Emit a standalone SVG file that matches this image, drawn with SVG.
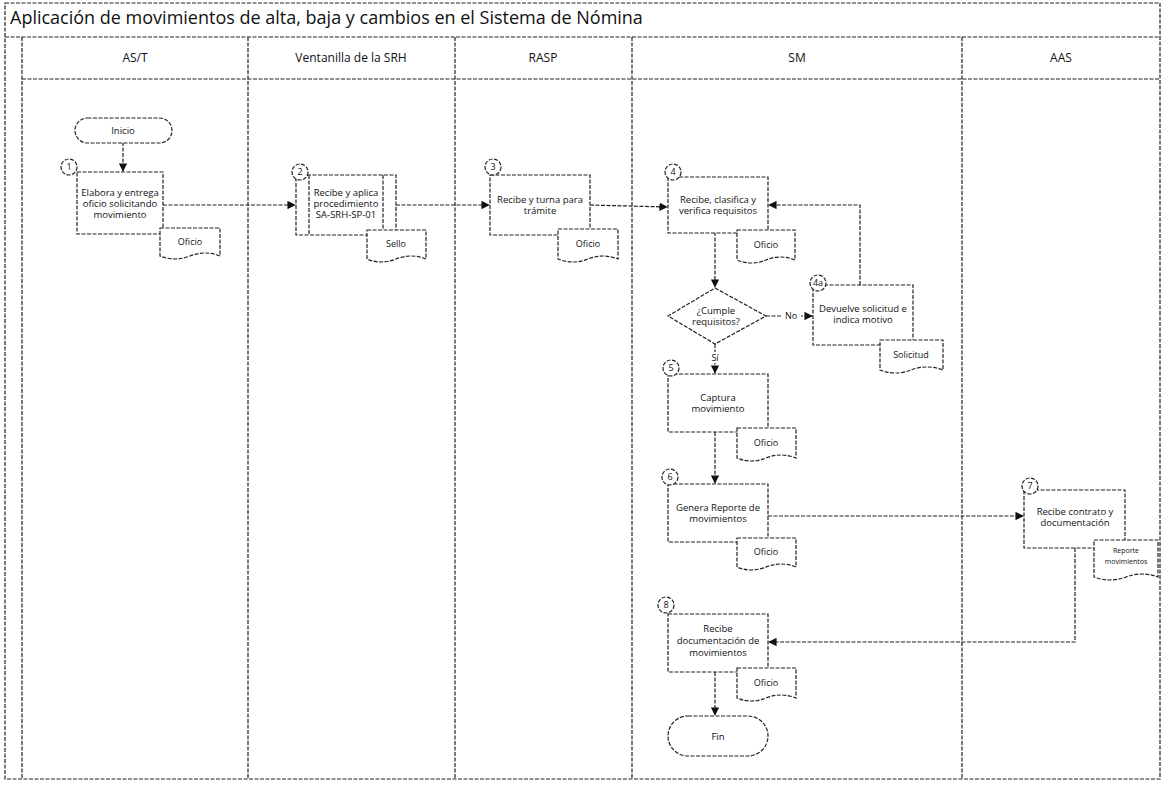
<svg xmlns="http://www.w3.org/2000/svg" width="1163" height="785" viewBox="0 0 1163 785">
<style>
.ln{fill:none;stroke:#222;stroke-width:1.2;stroke-dasharray:4,1.5}
.sh{fill:#fff;stroke:#222;stroke-width:1.2;stroke-dasharray:4,1.5}
.t{font-family:"Open Sans","Liberation Sans",sans-serif;font-size:9.5px;fill:#111;text-anchor:middle}
.h{font-family:"Open Sans","Liberation Sans",sans-serif;font-size:12px;fill:#111;text-anchor:middle}
.c{font-family:"Open Sans","Liberation Sans",sans-serif;font-size:9px;fill:#111;text-anchor:middle}
.s{font-family:"Open Sans","Liberation Sans",sans-serif;font-size:7px;fill:#111;text-anchor:middle}
</style>
<defs>
<marker id="ar" viewBox="0 0 10 10" refX="9" refY="5" markerWidth="7" markerHeight="7" orient="auto-start-reverse">
<path d="M0,0 L10,5 L0,10 z" fill="#111"/>
</marker>
</defs>
<rect width="1163" height="785" fill="#fff"/>
<g id="frame">
<rect x="5" y="3" width="1155" height="776" class="ln"/>
<text x="10" y="24" font-family="'Open Sans','Liberation Sans',sans-serif" font-size="18" fill="#111">Aplicación de movimientos de alta, baja y cambios en el Sistema de Nómina</text>
<line x1="5" y1="37" x2="1160" y2="37" class="ln"/>
<line x1="22" y1="37" x2="22" y2="779" class="ln"/>
<line x1="22" y1="79" x2="1160" y2="79" class="ln"/>
<line x1="248" y1="37" x2="248" y2="779" class="ln"/>
<line x1="455" y1="37" x2="455" y2="779" class="ln"/>
<line x1="632" y1="37" x2="632" y2="779" class="ln"/>
<line x1="962" y1="37" x2="962" y2="779" class="ln"/>
<text x="135" y="62" class="h">AS/T</text>
<text x="351" y="62" class="h">Ventanilla de la SRH</text>
<text x="543" y="62" class="h">RASP</text>
<text x="797" y="62" class="h">SM</text>
<text x="1061" y="62" class="h">AAS</text>
</g>
<g id="connectors">
<line x1="123" y1="142" x2="123" y2="171" class="ln" marker-end="url(#ar)"/>
<line x1="163" y1="205" x2="295" y2="205" class="ln" marker-end="url(#ar)"/>
<line x1="396" y1="205" x2="489" y2="205" class="ln" marker-end="url(#ar)"/>
<line x1="590" y1="205" x2="667" y2="207" class="ln" marker-end="url(#ar)"/>
<line x1="715" y1="232" x2="715" y2="287" class="ln" marker-end="url(#ar)"/>
<line x1="766" y1="316" x2="812" y2="316" class="ln" marker-end="url(#ar)"/>
<rect x="781" y="310" width="20" height="12" fill="#fff"/>
<text x="791" y="319" class="c">No</text>
<polyline points="860,285 860,205 769,205" class="ln" marker-end="url(#ar)"/>
<line x1="715" y1="344" x2="715" y2="373" class="ln" marker-end="url(#ar)"/>
<rect x="709" y="352" width="12" height="11" fill="#fff"/>
<text x="715" y="361" class="c">Sí</text>
<line x1="715" y1="432" x2="715" y2="483" class="ln" marker-end="url(#ar)"/>
<line x1="768" y1="516" x2="1023" y2="516" class="ln" marker-end="url(#ar)"/>
<polyline points="1075,548 1075,642 769,642" class="ln" marker-end="url(#ar)"/>
<line x1="715" y1="672" x2="715" y2="715" class="ln" marker-end="url(#ar)"/>
</g>
<g id="inicio">
<rect x="75" y="118" width="97" height="25" rx="12.5" class="sh"/>
<text x="123" y="134" class="t">Inicio</text>
</g>
<g id="n1">
<rect x="77" y="172" width="86" height="62" class="sh"/>
<text x="120" y="196" class="t">Elabora y entrega</text>
<text x="120" y="207" class="t">oficio solicitando</text>
<text x="120" y="218" class="t">movimiento</text>
<circle cx="69" cy="167" r="8" class="sh"/>
<text x="69" y="170" class="c">1</text>
<path d="M160,228 H220 V256 Q205,250 190,256 T160,256 Z" class="sh"/>
<text x="190" y="245" class="c">Oficio</text>
</g>
<g id="n2">
<rect x="296" y="175" width="100" height="60" class="sh"/>
<line x1="309" y1="175" x2="309" y2="235" class="ln"/>
<line x1="383" y1="175" x2="383" y2="235" class="ln"/>
<text x="346" y="196" class="t">Recibe y aplica</text>
<text x="346" y="207" class="t">procedimiento</text>
<text x="346" y="218" class="t">SA-SRH-SP-01</text>
<circle cx="300" cy="172" r="8" class="sh"/>
<text x="300" y="175" class="c">2</text>
<path d="M367,230 H426 V259 Q411,253 396,259 T367,259 Z" class="sh"/>
<text x="396" y="247" class="c">Sello</text>
</g>
<g id="n3">
<rect x="490" y="175" width="100" height="60" class="sh"/>
<text x="540" y="203" class="t">Recibe y turna para</text>
<text x="540" y="214" class="t">trámite</text>
<circle cx="493" cy="167" r="8" class="sh"/>
<text x="493" y="170" class="c">3</text>
<path d="M558,229 H618 V259 Q603,253 588,259 T558,259 Z" class="sh"/>
<text x="588" y="247" class="c">Oficio</text>
</g>
<g id="n4">
<rect x="668" y="177" width="100" height="56" class="sh"/>
<text x="718" y="203" class="t">Recibe, clasifica y</text>
<text x="718" y="214" class="t">verifica requisitos</text>
<circle cx="673" cy="172" r="8" class="sh"/>
<text x="673" y="175" class="c">4</text>
<path d="M737,230 H795 V260 Q780,254 766,260 T737,260 Z" class="sh"/>
<text x="766" y="248" class="c">Oficio</text>
</g>
<g id="decision">
<polygon points="715,288 766,316 715,344 668,316" class="sh"/>
<text x="716" y="314" class="t">¿Cumple</text>
<text x="716" y="325" class="t">requisitos?</text>
</g>
<g id="n4a">
<rect x="813" y="285" width="100" height="60" class="sh"/>
<text x="863" y="312" class="t">Devuelve solicitud e</text>
<text x="863" y="323" class="t">indica motivo</text>
<circle cx="818" cy="283" r="8" class="sh"/>
<text x="818" y="286" class="c">4a</text>
<path d="M880,340 H943 V370 Q927,364 911,370 T880,370 Z" class="sh"/>
<text x="911" y="358" class="c">Solicitud</text>
</g>
<g id="n5">
<rect x="668" y="374" width="100" height="58" class="sh"/>
<text x="718" y="401" class="t">Captura</text>
<text x="718" y="412" class="t">movimiento</text>
<circle cx="671" cy="368" r="8" class="sh"/>
<text x="671" y="371" class="c">5</text>
<path d="M737,428 H796 V458 Q781,452 766,458 T737,458 Z" class="sh"/>
<text x="766" y="446" class="c">Oficio</text>
</g>
<g id="n6">
<rect x="668" y="484" width="100" height="58" class="sh"/>
<text x="718" y="511" class="t">Genera Reporte de</text>
<text x="718" y="522" class="t">movimientos</text>
<circle cx="670" cy="477" r="8" class="sh"/>
<text x="670" y="480" class="c">6</text>
<path d="M737,538 H796 V567 Q781,561 766,567 T737,567 Z" class="sh"/>
<text x="766" y="555" class="c">Oficio</text>
</g>
<g id="n7">
<rect x="1024" y="490" width="101" height="58" class="sh"/>
<text x="1075" y="515" class="t">Recibe contrato y</text>
<text x="1075" y="526" class="t">documentación</text>
<circle cx="1030" cy="486" r="8" class="sh"/>
<text x="1030" y="489" class="c">7</text>
<path d="M1094,540 H1158 V577 Q1142,571 1126,577 T1094,577 Z" class="sh"/>
<text x="1126" y="553" class="s">Reporte</text>
<text x="1126" y="564" class="s">movimientos</text>
</g>
<g id="n8">
<rect x="668" y="614" width="100" height="58" class="sh"/>
<text x="718" y="632" class="t">Recibe</text>
<text x="718" y="644" class="t">documentación de</text>
<text x="718" y="656" class="t">movimientos</text>
<circle cx="666" cy="605" r="8" class="sh"/>
<text x="666" y="608" class="c">8</text>
<path d="M737,668 H796 V698 Q781,692 766,698 T737,698 Z" class="sh"/>
<text x="766" y="686" class="c">Oficio</text>
</g>
<g id="fin">
<rect x="668" y="716" width="100" height="40" rx="20" class="sh"/>
<text x="718" y="740" class="t">Fin</text>
</g>
</svg>
